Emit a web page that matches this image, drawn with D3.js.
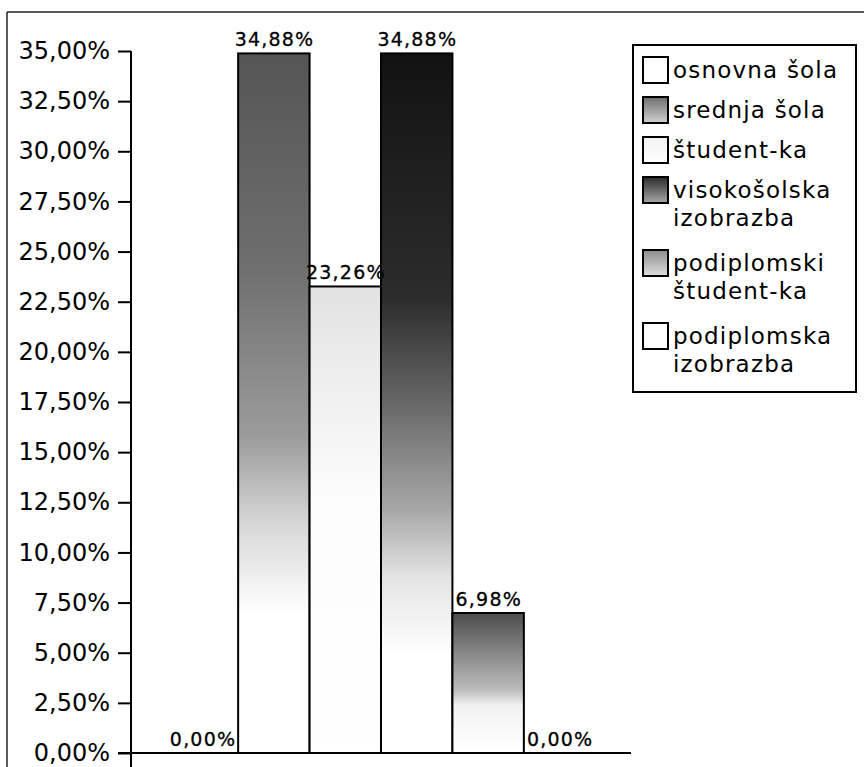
<!DOCTYPE html>
<html>
<head>
<meta charset="utf-8">
<script src="https://cdn.jsdelivr.net/npm/d3@7"></script>
<style>
  html, body { margin: 0; padding: 0; background: #fff; }
  svg { display: block; font-family: "DejaVu Sans", Verdana, sans-serif; }
</style>
</head>
<body>
<svg id="chart" width="864" height="767"></svg>
<script>
// Education level shares (percent)
const categories = [
  "osnovna šola",
  "srednja šola",
  "študent-ka",
  "visokošolska izobrazba",
  "podiplomski študent-ka",
  "podiplomska izobrazba"
];
const values = [0, 34.88, 23.26, 34.88, 6.98, 0];
const legendLines = [
  ["osnovna šola"],
  ["srednja šola"],
  ["študent-ka"],
  ["visokošolska", "izobrazba"],
  ["podiplomski", "študent-ka"],
  ["podiplomska", "izobrazba"]
];
const tickValues = [0, 2.5, 5, 7.5, 10, 12.5, 15, 17.5, 20, 22.5, 25, 27.5, 30, 32.5, 35];

// Vertical fill ramps for each bar (offset, colour), top to bottom
const barRamps = [
  [[0, "#ffffff"], [1, "#ffffff"]],
  [[0, "#555555"], [0.3, "#6e6e6e"], [0.55, "#9c9c9c"], [0.67, "#d6d6d6"], [0.8, "#ffffff"], [1, "#ffffff"]],
  [[0, "#e2e2e2"], [0.2, "#eeeeee"], [0.45, "#fcfcfc"], [1, "#ffffff"]],
  [[0, "#121212"], [0.35, "#2c2c2c"], [0.5, "#686868"], [0.65, "#a6a6a6"], [0.75, "#e4e4e4"], [0.86, "#ffffff"], [1, "#ffffff"]],
  [[0, "#4c4c4c"], [0.3, "#8a8a8a"], [0.55, "#bcbcbc"], [0.66, "#f2f2f2"], [1, "#ffffff"]],
  [[0, "#ffffff"], [1, "#ffffff"]]
];
const swatchRamps = [
  [[0, "#ffffff"], [1, "#ffffff"]],
  [[0, "#6e6e6e"], [1, "#d0d0d0"]],
  [[0, "#f2f2f2"], [1, "#ffffff"]],
  [[0, "#2a2a2a"], [1, "#a8a8a8"]],
  [[0, "#8c8c8c"], [1, "#dedede"]],
  [[0, "#ffffff"], [1, "#ffffff"]]
];

const fmt = v => v.toFixed(2).replace(".", ",") + "%";

const svg = d3.select("#chart");
const defs = svg.append("defs");

function addRamp(id, stops) {
  const g = defs.append("linearGradient")
    .attr("id", id).attr("x1", 0).attr("y1", 0).attr("x2", 0).attr("y2", 1);
  g.selectAll("stop").data(stops).join("stop")
    .attr("offset", d => d[0]).attr("stop-color", d => d[1]);
}
barRamps.forEach((s, i) => addRamp("bar" + i, s));
swatchRamps.forEach((s, i) => addRamp("sw" + i, s));

// Page frame (top and left rules)
svg.append("line").attr("x1", 7).attr("y1", 12).attr("x2", 864).attr("y2", 12)
  .attr("stroke", "#222").attr("stroke-width", 1.5);
svg.append("line").attr("x1", 7).attr("y1", 12).attr("x2", 7).attr("y2", 767)
  .attr("stroke", "#222").attr("stroke-width", 1.5);

const x = d3.scaleBand().domain(categories).range([131, 631])
  .paddingInner(0).paddingOuter(0.5);
const y = d3.scaleLinear().domain([0, 35]).range([753, 51]);

// Bars
svg.append("g").selectAll("rect")
  .data(values.map((v, i) => ({ v, i })).filter(d => d.v > 0))
  .join("rect")
  .attr("x", d => x(categories[d.i]))
  .attr("y", d => y(d.v))
  .attr("width", x.bandwidth())
  .attr("height", d => y(0) - y(d.v))
  .attr("fill", d => `url(#bar${d.i})`)
  .attr("stroke", "#000")
  .attr("stroke-width", 2);

// Y axis
const yAxis = d3.axisLeft(y).tickValues(tickValues).tickFormat(fmt)
  .tickSize(13).tickPadding(8);
const gy = svg.append("g").attr("transform", "translate(131,0)").call(yAxis);
gy.select(".domain").remove();
gy.selectAll(".tick line").attr("stroke", "#000").attr("stroke-width", 2);
gy.selectAll(".tick text")
  .attr("fill", "#000")
  .style("font-size", "24px")
  .style("font-family", "'DejaVu Sans', sans-serif");
svg.append("line").attr("x1", 131).attr("x2", 131).attr("y1", y(35)).attr("y2", 767)
  .attr("stroke", "#000").attr("stroke-width", 2);

// Baseline
svg.append("line").attr("x1", 118).attr("x2", 631).attr("y1", y(0)).attr("y2", y(0))
  .attr("stroke", "#000").attr("stroke-width", 2);

// Value labels
svg.append("g").selectAll("text")
  .data(values.map((v, i) => ({ v, i })))
  .join("text")
  .attr("x", d => x(categories[d.i]) + x.bandwidth() / 2 + 0.6)
  .attr("y", d => y(d.v) - 7)
  .attr("text-anchor", "middle")
  .style("font-size", "19px")
  .style("letter-spacing", "1.2px")
  .attr("fill", "#000")
  .attr("stroke", "#000")
  .attr("stroke-width", 0.3)
  .text(d => fmt(d.v));

// Legend
const legend = svg.append("g");
legend.append("rect").attr("x", 633).attr("y", 45).attr("width", 223).attr("height", 347)
  .attr("fill", "#fff").attr("stroke", "#000").attr("stroke-width", 2);

let base = 78;
legendLines.forEach((lines, i) => {
  legend.append("rect")
    .attr("x", 643).attr("y", base - 21).attr("width", 25).attr("height", 26)
    .attr("fill", `url(#sw${i})`).attr("stroke", "#000").attr("stroke-width", 2);
  lines.forEach((ln, j) => {
    legend.append("text")
      .attr("x", 673).attr("y", base + j * 28)
      .style("font-size", "23px")
      .style("letter-spacing", "1.2px")
      .attr("fill", "#000")
      .text(ln);
  });
  base += (lines.length - 1) * 28 + (lines.length > 1 ? 45 : 40);
});
</script>
</body>
</html>
